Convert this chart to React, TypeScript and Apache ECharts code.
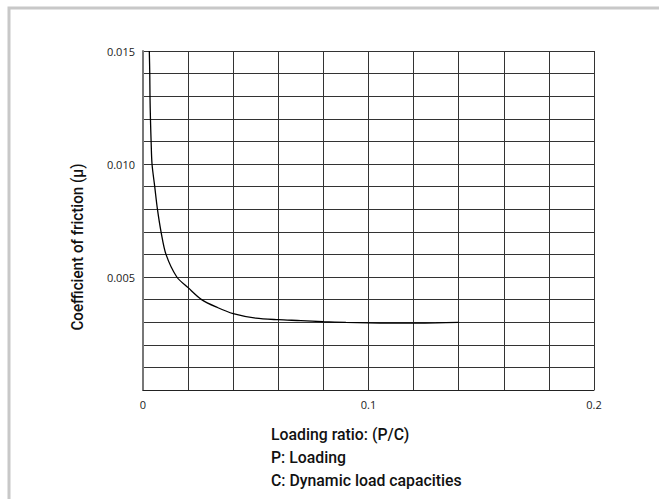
import React, { useEffect, useRef } from "react";
import * as echarts from "echarts";

const loadingRatio = [0.0028, 0.003, 0.0031, 0.0033, 0.0036, 0.004, 0.0052, 0.0064, 0.008, 0.0102, 0.015, 0.02, 0.026, 0.033, 0.04, 0.05, 0.06, 0.07, 0.08, 0.09, 0.1, 0.11, 0.12, 0.13, 0.14];
const friction = [0.015, 0.014, 0.013, 0.012, 0.011, 0.01, 0.009, 0.008, 0.007, 0.006, 0.005, 0.00453, 0.004, 0.00365, 0.00338, 0.00318, 0.00311, 0.00307, 0.00302, 0.00299, 0.00297, 0.00296, 0.00296, 0.00297, 0.00299];
const xTickLabels = ["0", "0.1", "0.2"];
const yTickLabels = ["0.005", "0.010", "0.015"];
const yTitle = "Coefficient of friction (μ)";
const xTitleLines = ["Loading ratio: (P/C)", "P: Loading", "C: Dynamic load capacities"];

const titleFont = "Roboto, 'Noto Sans', sans-serif";
const tickFont = "'Open Sans', 'Noto Sans', sans-serif";

export default function App() {
  const ref = useRef<HTMLDivElement>(null);
  useEffect(() => {
    if (!ref.current) return;
    const chart = echarts.init(ref.current, null, { renderer: "svg" });
    const data = loadingRatio.map((x, i) => [x, friction[i]]);
    chart.setOption({
      animation: false,
      backgroundColor: "#ffffff",
      grid: { left: 143, right: 65, top: 51, bottom: 109, containLabel: false },
      xAxis: {
        type: "value",
        min: 0,
        max: 0.2,
        interval: 0.02,
        axisLine: { show: true, lineStyle: { color: "#222", width: 1 } },
        axisTick: { show: false },
        splitLine: { show: true, lineStyle: { color: "#333", width: 1 } },
        axisLabel: {
          margin: 9,
          color: "#222",
          fontSize: 11,
          fontFamily: tickFont,
          formatter: (v: number) => {
            const idx = Math.round(v / 0.1);
            return Math.abs(v - idx * 0.1) < 1e-9 ? xTickLabels[idx] : "";
          },
        },
      },
      yAxis: {
        type: "value",
        min: 0,
        max: 0.015,
        interval: 0.001,
        axisLine: { show: true, lineStyle: { color: "#777", width: 2 } },
        axisTick: { show: false },
        splitLine: { show: true, lineStyle: { color: "#333", width: 1 } },
        axisLabel: {
          margin: 8,
          color: "#222",
          fontSize: 11,
          fontFamily: tickFont,
          formatter: (v: number) => {
            const idx = Math.round(v / 0.005);
            if (idx < 1 || Math.abs(v - idx * 0.005) > 1e-9) return "";
            return yTickLabels[idx - 1];
          },
        },
      },
      series: [
        {
          type: "line",
          data,
          smooth: 0.3,
          showSymbol: false,
          lineStyle: { color: "#000", width: 1.3 },
        },
      ],
      graphic: [
        {
          type: "polyline",
          shape: { points: [[9, 499], [9, 8], [659, 8]] },
          style: { stroke: "#c8c8c8", lineWidth: 3, fill: "none" },
          silent: true,
        },
        {
          type: "text",
          x: 78,
          y: 247,
          rotation: Math.PI / 2,
          scaleX: 0.95,
          style: {
            text: yTitle,
            fill: "#111",
            font: `500 16px ${titleFont}`,
            align: "center",
            verticalAlign: "middle",
          },
        },
        ...xTitleLines.map((t, i) => ({
          type: "text",
          x: 271,
          y: 426 + i * 23,
          scaleX: 0.99,
          style: {
            text: t,
            fill: "#111",
            font: `500 16px ${titleFont}`,
            align: "left",
            verticalAlign: "top",
          },
        })),
      ],
    });
    return () => chart.dispose();
  }, []);
  return (
    <div
      ref={ref}
      style={{ position: "fixed", left: 0, top: 0, width: 659, height: 499 }}
    />
  );
}
